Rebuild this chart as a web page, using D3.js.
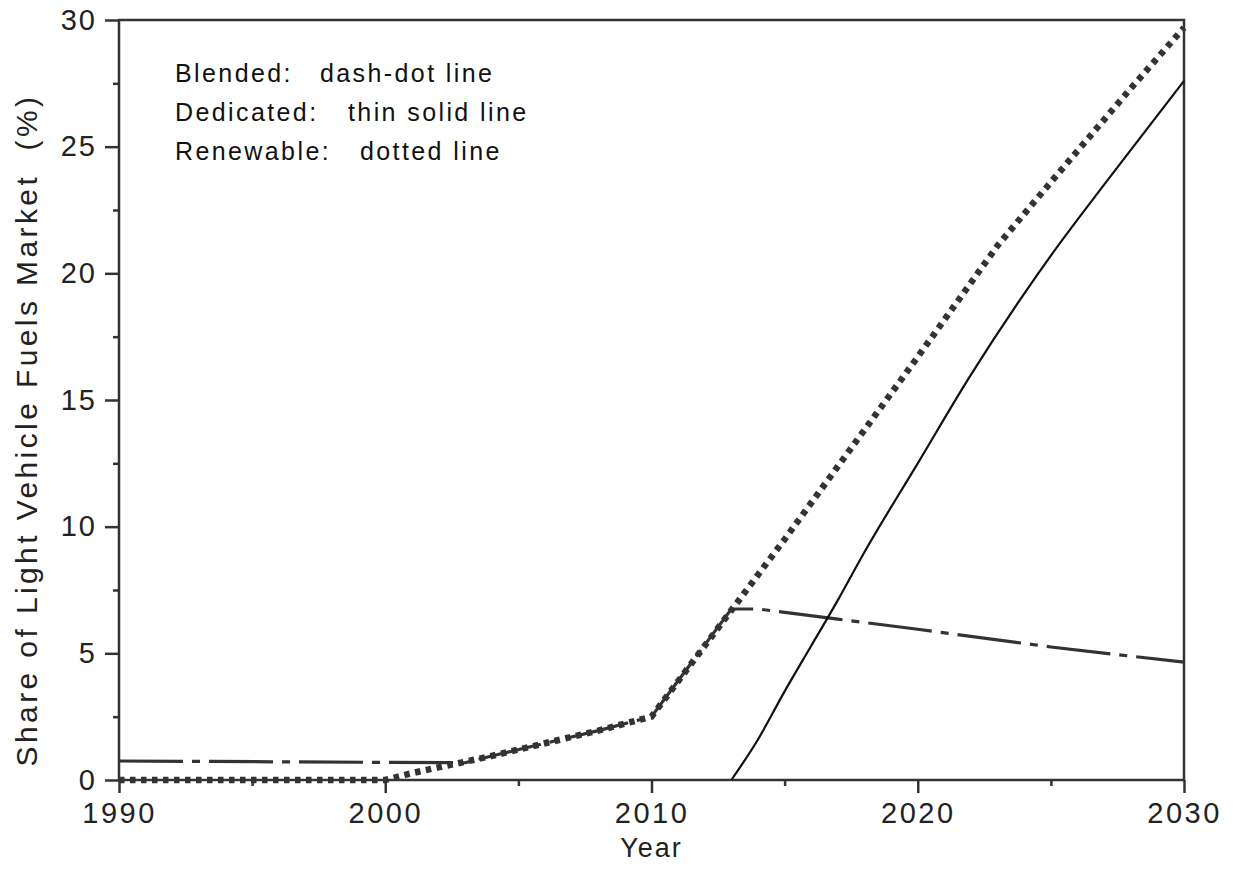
<!DOCTYPE html>
<html><head><meta charset="utf-8">
<script src="https://cdn.jsdelivr.net/npm/d3@7"></script>
<style>body{margin:0;background:#fff}</style></head>
<body><svg id="c" width="1235" height="872"></svg>
<script>
// ---- data ----
const renewableYears = [1990, 2000, 2001, 2002, 2003, 2004, 2006, 2008, 2010, 2013, 2015, 2020, 2023, 2025, 2028, 2030];
const renewableVals  = [0, 0, 0.27, 0.5, 0.72, 0.95, 1.45, 1.95, 2.5, 6.7, 9.5, 16.7, 21.1, 23.6, 27.3, 29.7];
const blendedYears = [1990, 2003, 2004, 2006, 2008, 2010, 2013, 2014, 2017, 2020, 2025, 2030];
const blendedVals  = [0.75, 0.68, 0.95, 1.45, 1.95, 2.5, 6.75, 6.75, 6.35, 5.95, 5.25, 4.65];
const dedicatedYears = [2013, 2014, 2015, 2016, 2017, 2018, 2020, 2022, 2024, 2025, 2027, 2030];
const dedicatedVals  = [0, 1.6, 3.5, 5.3, 7.1, 9.0, 12.5, 16.0, 19.2, 20.7, 23.5, 27.6];
const xMajor = [1990, 2000, 2010, 2020, 2030];
const xMinor = [1995, 2005, 2015, 2025];
const yMajor = [0, 5, 10, 15, 20, 25, 30];
const yMinor = [2.5, 7.5, 12.5, 17.5, 22.5, 27.5];
const legendLabels = ["Blended:", "Dedicated:", "Renewable:"];
const legendDescs = ["dash-dot line", "thin solid line", "dotted line"];
const xTitle = "Year";
const yTitle = "Share of Light Vehicle Fuels Market  (%)";

// ---- chart ----
const svg = d3.select("#c");
const FONT = "'Liberation Sans', Arial, Helvetica, sans-serif";
const x = d3.scaleLinear().domain([1990, 2030]).range([119, 1184]);
const y = d3.scaleLinear().domain([0, 30]).range([780, 20]);
const AX = "#333";

function styleAxis(g) {
  g.select(".domain").remove();
  g.selectAll(".tick line").attr("stroke", AX).attr("stroke-width", 2.5);
  g.selectAll(".tick text").attr("fill", "#222").style("font-family", FONT);
}

// box frame
svg.append("rect")
  .attr("x", x(1990)).attr("y", y(30))
  .attr("width", x(2030) - x(1990)).attr("height", y(0) - y(30))
  .attr("fill", "none").attr("stroke", AX).attr("stroke-width", 2.5);

// x axis
const gx = svg.append("g").attr("transform", `translate(0,${y(0)})`)
  .call(d3.axisBottom(x).tickValues(xMajor).tickSize(13).tickPadding(9).tickFormat(d3.format("d")));
styleAxis(gx);
gx.selectAll(".tick text").style("font-size", "29px").style("letter-spacing", "2.5px");
const gxm = svg.append("g").attr("transform", `translate(0,${y(0)})`)
  .call(d3.axisBottom(x).tickValues(xMinor).tickSize(6).tickFormat(""));
styleAxis(gxm);

// y axis
const gy = svg.append("g").attr("transform", `translate(${x(1990)},0)`)
  .call(d3.axisLeft(y).tickValues(yMajor).tickSize(14).tickPadding(8).tickFormat(d3.format("d")));
styleAxis(gy);
gy.selectAll(".tick text").style("font-size", "29px").style("letter-spacing", "2px");
const gym = svg.append("g").attr("transform", `translate(${x(1990)},0)`)
  .call(d3.axisLeft(y).tickValues(yMinor).tickSize(6).tickFormat(""));
styleAxis(gym);

// axis titles
svg.append("text").attr("x", (x(1990) + x(2030)) / 2).attr("y", 857)
  .attr("text-anchor", "middle").style("font-family", FONT).style("font-size", "27px")
  .style("letter-spacing", "2px").attr("fill", "#222").text(xTitle);
svg.append("text").attr("transform", `translate(37,${(y(0) + y(30)) / 2 + 30}) rotate(-90)`)
  .attr("text-anchor", "middle").style("font-family", FONT).style("font-size", "30px")
  .style("letter-spacing", "3.4px").style("white-space", "pre").attr("fill", "#222").text(yTitle);

// lines
const pts = (ys, vs) => ys.map((d, i) => [d, vs[i]]);
const lin = d3.line().x(d => x(d[0])).y(d => y(d[1]));
const smooth = d3.line().x(d => x(d[0])).y(d => y(d[1])).curve(d3.curveMonotoneX);

svg.append("path").datum(pts(blendedYears, blendedVals)).attr("d", lin)
  .attr("fill", "none").attr("stroke", "#333").attr("stroke-width", 3.2)
  .attr("stroke-dasharray", "64,9,8,9");
svg.append("path").datum(pts(renewableYears, renewableVals)).attr("d", lin)
  .attr("fill", "none").attr("stroke", "#333").attr("stroke-width", 6.5)
  .attr("stroke-dasharray", "5.5,5.5");
svg.append("path").datum(pts(dedicatedYears, dedicatedVals)).attr("d", smooth)
  .attr("fill", "none").attr("stroke", "#111").attr("stroke-width", 2.2);

// legend text
const legX2 = [320, 348, 360];
legendLabels.forEach((t, i) => {
  const yy = 82 + i * 39;
  svg.append("text").attr("x", 175).attr("y", yy).style("font-family", FONT)
    .style("font-size", "25px").style("letter-spacing", "2.4px").attr("fill", "#111").text(t);
  svg.append("text").attr("x", legX2[i]).attr("y", yy).style("font-family", FONT)
    .style("font-size", "25px").style("letter-spacing", "2.4px").attr("fill", "#111").text(legendDescs[i]);
});
</script>
</body></html>
